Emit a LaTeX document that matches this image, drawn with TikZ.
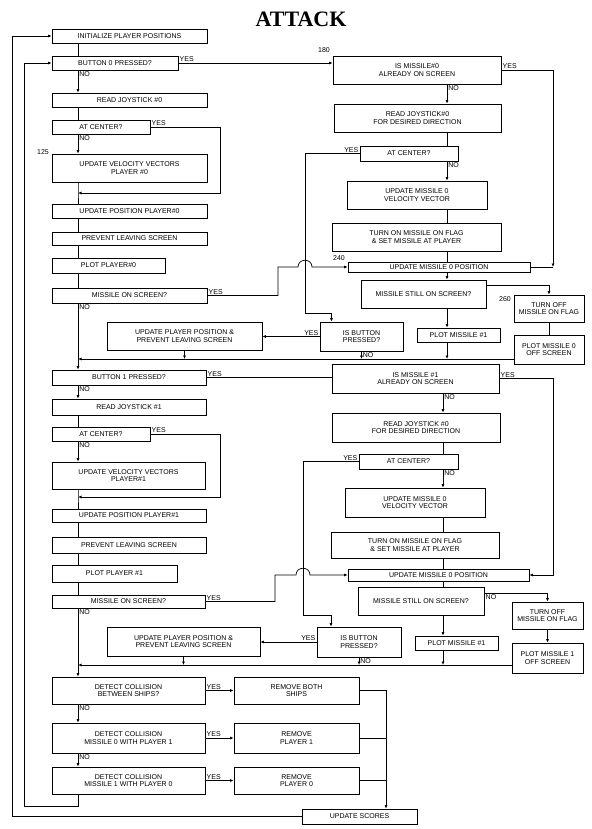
\documentclass[tikz,border=0pt]{standalone}
\usepackage{fontspec}
\setmainfont{Liberation Sans}
\newfontfamily\titlefont{Liberation Serif}
\usetikzlibrary{arrows.meta}

\tikzset{
	box/.style={draw, line width=0.7pt, align=center, inner sep=1pt, font=\fontsize{7}{7.8}\selectfont},
	sz/.style 2 args={minimum width=#1pt, minimum height=#2pt},
	lbl/.style={inner sep=1pt, font=\fontsize{7}{8}\selectfont},
	line/.style={line width=0.7pt},
	arr/.style={line width=0.7pt, -{Latex[length=3.5pt,width=3pt]}},
}

\begin{document}
\begin{tikzpicture}[x=1pt, y=-1pt]
	\useasboundingbox (0,0) rectangle (591,829);
	\node[font={\titlefont\bfseries\fontsize{22}{24}\selectfont}] (title) at (301,19) {ATTACK};
	
	\coordinate (lx) at (78,0);
	\coordinate (sa) at (447,0);
	\coordinate (sb) at (443,0);
	\coordinate (bus) at (386,0);
	
	% player 0
	\node[box, sz={155}{14}] (init) at (129.5,36) {INITIALIZE PLAYER POSITIONS};
	\node[box, sz={126}{14}] (btn0) at (115,63) {BUTTON 0 PRESSED?};
	\node[box, sz={155}{14}] (joy0) at (129.5,100) {READ JOYSTICK \#0};
	\node[box, sz={98}{14}] (ctr0) at (101,127) {AT CENTER?};
	\node[box, sz={155}{28}] (vel0) at (129.5,168) {UPDATE VELOCITY VECTORS\\PLAYER \#0};
	\node[box, sz={155}{14}] (pos0) at (129.5,211) {UPDATE POSITION PLAYER\#0};
	\node[box, sz={155}{13}] (prev0) at (129.5,238.5) {PREVENT LEAVING SCREEN};
	\node[box, sz={113}{15}] (plot0) at (108.5,265.5) {PLOT PLAYER\#0};
	\node[box, sz={155}{15}] (mis0) at (129.5,295.5) {MISSILE ON SCREEN?};
	\node[box, sz={155}{28}] (upd0) at (184.5,336) {UPDATE PLAYER POSITION \&\\PREVENT LEAVING SCREEN};
	\node[box, sz={83}{29}] (isbtn0) at (361.5,336.5) {IS BUTTON\\PRESSED?};
	
	% missile 0
	\node[box, sz={168}{28}] (ism0) at (417,70) {IS MISSILE\#0\\ALREADY ON SCREEN};
	\node[box, sz={167}{28}] (rjy0) at (417.5,118) {READ JOYSTICK\#0\\FOR DESIRED DIRECTION};
	\node[box, sz={98}{15}] (mctr0) at (409,153.5) {AT CENTER?};
	\node[box, sz={140}{28}] (mvel0) at (417,195) {UPDATE MISSILE 0\\VELOCITY VECTOR};
	\node[box, sz={169}{28}] (mon0) at (416.5,237) {TURN ON MISSILE ON FLAG\\\& SET MISSILE AT PLAYER};
	\node[box, sz={182}{10}] (mpos0) at (439,267) {UPDATE MISSILE 0 POSITION};
	\node[box, sz={125}{28}] (mstill0) at (423.5,294) {MISSILE STILL ON SCREEN?};
	\node[box, sz={70}{27}] (off0) at (549,308.5) {TURN OFF\\MISSILE ON FLAG};
	\node[box, sz={70}{29}] (offplot0) at (549,349.5) {PLOT MISSILE 0\\OFF SCREEN};
	\node[box, sz={83}{14}] (plotm0) at (458.5,335) {PLOT MISSILE \#1};
	
	% player 1
	\node[box, sz={154}{15}] (btn1) at (129,377.5) {BUTTON 1 PRESSED?};
	\node[box, sz={154}{16}] (joy1) at (129,407) {READ JOYSTICK \#1};
	\node[box, sz={98}{14}] (ctr1) at (101,434) {AT CENTER?};
	\node[box, sz={153}{27}] (vel1) at (128.5,475.5) {UPDATE VELOCITY VECTORS\\PLAYER\#1};
	\node[box, sz={154}{13}] (pos1) at (129,515.5) {UPDATE POSITION PLAYER\#1};
	\node[box, sz={154}{16}] (prev1) at (129,545) {PREVENT LEAVING SCREEN};
	\node[box, sz={125}{17}] (plot1) at (114.5,573.5) {PLOT PLAYER \#1};
	\node[box, sz={153}{13}] (mis1) at (128.5,601.5) {MISSILE ON SCREEN?};
	\node[box, sz={153}{29}] (upd1) at (183.5,641.5) {UPDATE PLAYER POSITION \&\\PREVENT LEAVING SCREEN};
	\node[box, sz={84}{30}] (isbtn1) at (359,642) {IS BUTTON\\PRESSED?};
	
	% missile 1
	\node[box, sz={167}{29}] (ism1) at (415.5,378.5) {IS MISSILE \#1\\ALREADY ON SCREEN};
	\node[box, sz={168}{29}] (rjy1) at (416,427.5) {READ JOYSTICK \#0\\FOR DESIRED DIRECTION};
	\node[box, sz={99}{15}] (mctr1) at (408.5,461.5) {AT CENTER?};
	\node[box, sz={140}{29}] (mvel1) at (415,502.5) {UPDATE MISSILE 0\\VELOCITY VECTOR};
	\node[box, sz={168}{26}] (mon1) at (415,545) {TURN ON MISSILE ON FLAG\\\& SET MISSILE AT PLAYER};
	\node[box, sz={181}{12}] (mpos1) at (438.5,575) {UPDATE MISSILE 0 POSITION};
	\node[box, sz={126}{28}] (mstill1) at (421,601) {MISSILE STILL ON SCREEN?};
	\node[box, sz={71}{27}] (off1) at (547.5,615.5) {TURN OFF\\MISSILE ON FLAG};
	\node[box, sz={71}{30}] (offplot1) at (547.5,658) {PLOT MISSILE 1\\OFF SCREEN};
	\node[box, sz={83}{14}] (plotm1) at (456.5,643) {PLOT MISSILE \#1};
	
	% collisions
	\node[box, sz={153}{27}] (col0) at (128.5,690.5) {DETECT COLLISION\\BETWEEN SHIPS?};
	\node[box, sz={125}{27}] (rmb) at (296.5,690.5) {REMOVE BOTH\\SHIPS};
	\node[box, sz={153}{30}] (col1) at (128.5,738) {DETECT COLLISION\\MISSILE 0 WITH PLAYER 1};
	\node[box, sz={125}{30}] (rm1) at (296.5,738) {REMOVE\\PLAYER 1};
	\node[box, sz={153}{27}] (col2) at (128.5,780.5) {DETECT COLLISION\\MISSILE 1 WITH PLAYER 0};
	\node[box, sz={125}{27}] (rm0) at (296.5,780.5) {REMOVE\\PLAYER 0};
	\node[box, sz={115}{15}] (scores) at (359.5,816.5) {UPDATE SCORES};
	
	\node[lbl] (n125) at (43,152) {125};
	\node[lbl] (n180) at (324,50) {180};
	\node[lbl] (n240) at (339,258) {240};
	\node[lbl] (n260) at (505,299) {260};
	
	% player 0 connectors
	\coordinate (ja) at (78,193);
	\coordinate (jb) at (78,359);
	\draw[line] (init.south -| lx) -- (btn0.north -| lx);
	\draw[arr] (btn0.south -| lx) node[lbl, below right] {NO} -- (joy0.north -| lx);
	\draw[line] (joy0.south -| lx) -- (ctr0.north -| lx);
	\draw[arr] (ctr0.south -| lx) node[lbl, below right] {NO} -- (vel0.north -| lx);
	\draw[arr] (ctr0.east) node[lbl, above right] {YES} -| (220,193) -- (ja);
	\draw[line] (vel0.south -| lx) -- (ja) -- (pos0.north -| lx);
	\draw[line] (pos0.south -| lx) -- (prev0.north -| lx);
	\draw[line] (prev0.south -| lx) -- (plot0.north -| lx);
	\draw[line] (plot0.south -| lx) -- (mis0.north -| lx);
	\draw[arr] (mis0.south -| lx) node[lbl, below right] {NO} -- (btn1.north -| lx);
	\draw[arr] (mis0.east) node[lbl, above right] {YES} -- (278,295.5) -- (278,267) -- (298,267)
		.. controls (298,258) and (312,258) .. (312,267) -- (mpos0.west);
	\draw[arr] (btn0.east) node[lbl, above right] {YES} -- (btn0.east -| ism0.west);
	\draw[arr] (upd0.south) -- (upd0.south |- jb);
	\draw[arr] (isbtn0.south) node[lbl, below right] {NO} -- (isbtn0.south |- jb);
	\draw[arr] (isbtn0.west) node[lbl, above left] {YES} -- (isbtn0.west -| upd0.east);
	
	% missile 0 connectors
	\coordinate (ra) at (553,267);
	\draw[arr] (ism0.east) node[lbl, above right] {YES} -| (ra);
	\draw[line] (ra) -- (mpos0.east);
	\draw[arr] (ism0.south -| sa) node[lbl, below right] {NO} -- (rjy0.north -| sa);
	\draw[line] (rjy0.south -| sa) -- (mctr0.north -| sa);
	\draw[arr] (mctr0.south -| sa) node[lbl, below right] {NO} -- (mvel0.north -| sa);
	\draw[line] (mvel0.south -| sa) -- (mon0.north -| sa);
	\draw[line] (mon0.south -| sa) -- (mpos0.north -| sa);
	\draw[arr] (mpos0.south -| sa) -- (mstill0.north -| sa);
	\draw[arr] (mstill0.south -| sa) -- (plotm0.north -| sa);
	\draw[arr] (plotm0.south -| sa) -- (jb -| sa);
	\draw[arr] ([yshift=9pt]mstill0.east) -| (off0.north);
	\draw[line] (off0.south) -- (offplot0.north);
	\draw[arr] (offplot0.west |- jb) -- (jb);
	\draw[arr] (mctr0.west) node[lbl, above left] {YES} -| (305,313) -| ([xshift=-30pt]isbtn0.north);
	
	% player 1 connectors
	\coordinate (jd) at (78,497);
	\coordinate (jc) at (78,665);
	\draw[arr] (btn1.south -| lx) node[lbl, below right] {NO} -- (joy1.north -| lx);
	\draw[line] (joy1.south -| lx) -- (ctr1.north -| lx);
	\draw[arr] (ctr1.south -| lx) node[lbl, below right] {NO} -- (vel1.north -| lx);
	\draw[arr] (ctr1.east) node[lbl, above right] {YES} -| (220,497) -- (jd);
	\draw[line] (vel1.south -| lx) -- (jd) -- (pos1.north -| lx);
	\draw[line] (pos1.south -| lx) -- (prev1.north -| lx);
	\draw[line] (prev1.south -| lx) -- (plot1.north -| lx);
	\draw[line] (plot1.south -| lx) -- (mis1.north -| lx);
	\draw[arr] (mis1.south -| lx) node[lbl, below right] {NO} -- (col0.north -| lx);
	\draw[arr] (mis1.east) node[lbl, above right] {YES} -- (275,601.5) -- (275,575) -- (296,575)
		.. controls (296,566) and (310,566) .. (310,575) -- (mpos1.west);
	\draw[line] (btn1.east) node[lbl, above right] {YES} -- (btn1.east -| ism1.west);
	\draw[arr] (upd1.south) -- (upd1.south |- jc);
	\draw[arr] (isbtn1.south) node[lbl, below right] {NO} -- (isbtn1.south |- jc);
	\draw[arr] (isbtn1.west) node[lbl, above left] {YES} -- (isbtn1.west -| upd1.east);
	
	% missile 1 connectors
	\draw[arr] (ism1.east) node[lbl, above right] {YES} -| (553,575) -- (mpos1.east);
	\draw[arr] (ism1.south -| sb) node[lbl, below right] {NO} -- (rjy1.north -| sb);
	\draw[line] (rjy1.south -| sb) -- (mctr1.north -| sb);
	\draw[arr] (mctr1.south -| sb) node[lbl, below right] {NO} -- (mvel1.north -| sb);
	\draw[line] (mvel1.south -| sb) -- (mon1.north -| sb);
	\draw[line] (mon1.south -| sb) -- (mpos1.north -| sb);
	\draw[line] (mpos1.south -| sb) -- (mstill1.north -| sb);
	\draw[arr] (mstill1.south -| sb) -- (plotm1.north -| sb);
	\draw[arr] (plotm1.south -| sb) -- (jc -| sb);
	\draw[arr] ([yshift=8pt]mstill1.east) node[lbl, below right] {NO} -| (off1.north);
	\draw[arr] (off1.south) -- (offplot1.north);
	\draw[arr] (offplot1.west |- jc) -- (jc);
	\draw[arr] (mctr1.west) node[lbl, above left] {YES} -| (303,615) -| ([xshift=-28pt]isbtn1.north);
	
	% collisions and scores
	\draw[arr] (col0.south -| lx) node[lbl, below right] {NO} -- (col1.north -| lx);
	\draw[arr] (col1.south -| lx) node[lbl, below right] {NO} -- (col2.north -| lx);
	\draw[arr] (col0.east) node[lbl, above right] {YES} -- (rmb.west);
	\draw[arr] (col1.east) node[lbl, above right] {YES} -- (rm1.west);
	\draw[arr] (col2.east) node[lbl, above right] {YES} -- (rm0.west);
	\draw[arr] (rmb.east) -| (scores.north -| bus);
	\draw[line] (rm1.east) -- (rm1.east -| bus);
	\draw[line] (rm0.east) -- (rm0.east -| bus);
	\draw[arr] (col2.south -| lx) |- (24,806) |- (btn0.west);
	\draw[arr] (scores.west) -| (12,36) -- (init.west);
\end{tikzpicture}
\end{document}
